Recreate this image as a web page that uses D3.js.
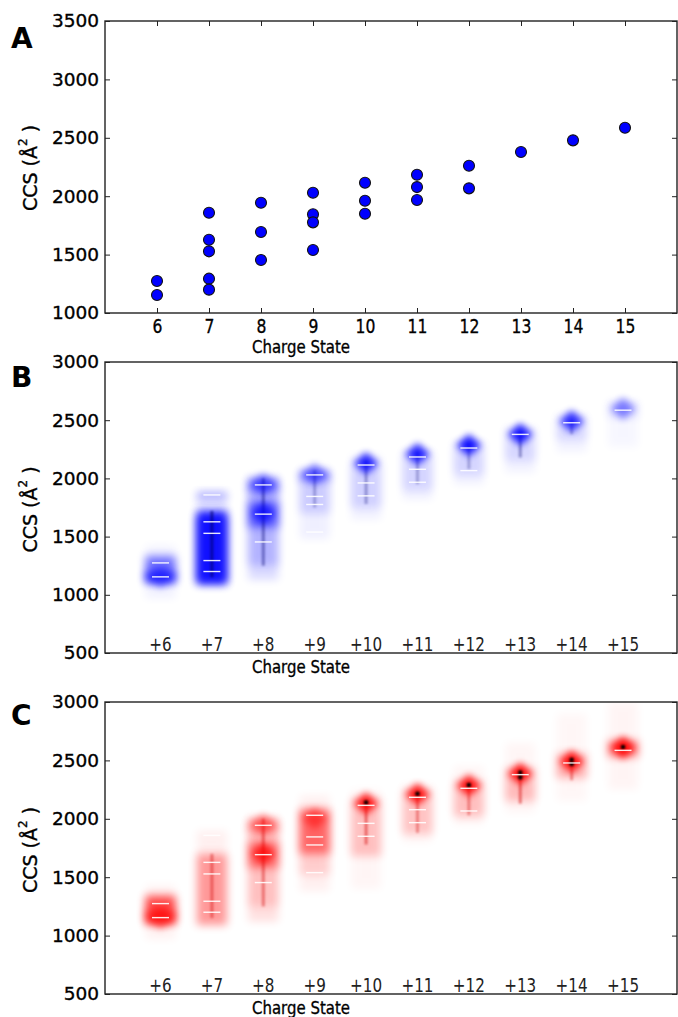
<!DOCTYPE html>
<html>
<head>
<meta charset="utf-8">
<script src="https://cdn.jsdelivr.net/npm/d3@7"></script>
<style>
  body { margin: 0; background: #fff; }
  text { font-family: "DejaVu Sans", sans-serif; }
</style>
</head>
<body>
<div id="chart"></div>
<script>
// charge states and CCS peaks (panel A, also the white marks in B and C)
const charges = [6, 7, 8, 9, 10, 11, 12, 13, 14, 15];
const chargeLabels = charges.map(c => '+' + c);
const peakCharge = [6, 6, 7, 7, 7, 7, 7, 8, 8, 8, 9, 9, 9, 9, 10, 10, 10, 11, 11, 11, 12, 12, 13, 14, 15];
const peakCCS = [1274, 1154, 1858, 1627, 1528, 1294, 1200, 1944, 1693, 1454, 2030, 1845, 1776, 1539,
                 2115, 1961, 1850, 2184, 2078, 1967, 2261, 2067, 2378, 2478, 2586];
const ticksA = [1000, 1500, 2000, 2500, 3000, 3500];
const ticksBC = [500, 1000, 1500, 2000, 2500, 3000];

// density bands: [charge, ccs low, ccs high, intensity]
const bandsB = [
  [6, 970, 1420, 0.05], [6, 1100, 1330, 0.55], [6, 1110, 1200, 0.6],
  [7, 1700, 1890, 0.1], [7, 1820, 1880, 0.25], [7, 1090, 1720, 0.85], [7, 1110, 1680, 0.55],
  [8, 1130, 2020, 0.14], [8, 1250, 1990, 0.18], [8, 1880, 1990, 0.4], [8, 1580, 1800, 0.5],
  [9, 1480, 2100, 0.06], [9, 1700, 2060, 0.15], [9, 1980, 2060, 0.4],
  [10, 1650, 2200, 0.06], [10, 1750, 2150, 0.13],
  [11, 1820, 2250, 0.06], [11, 1900, 2230, 0.11],
  [12, 1950, 2330, 0.06], [12, 2030, 2310, 0.11],
  [13, 2050, 2450, 0.05], [13, 2150, 2420, 0.11],
  [14, 2230, 2560, 0.05], [14, 2330, 2530, 0.11],
  [15, 2270, 2660, 0.03], [15, 2520, 2660, 0.1]
];
// bright spots: [charge, ccs, intensity]
const coresB = [
  [6, 1150, 0.4], [8, 1700, 0.7], [8, 1950, 0.5], [9, 2035, 0.5], [10, 2130, 0.85],
  [11, 2210, 0.85], [12, 2285, 0.9], [13, 2380, 0.9], [14, 2490, 0.8], [15, 2600, 0.45]
];
// darker vertical streaks: [charge, ccs low, ccs high, intensity]
const streaksB = [
  [7, 1150, 1720, 0.6], [8, 1250, 2000, 0.4], [9, 1750, 2070, 0.25], [10, 1780, 2150, 0.3],
  [11, 1950, 2230, 0.25], [12, 2080, 2300, 0.25], [13, 2180, 2400, 0.35], [14, 2380, 2500, 0.25]
];

const bandsC = [
  [6, 970, 1430, 0.05], [6, 1100, 1340, 0.7], [6, 1110, 1220, 0.5],
  [7, 1700, 1900, 0.06], [7, 1090, 1700, 0.4],
  [8, 1120, 2020, 0.12], [8, 1250, 1990, 0.14], [8, 1880, 1990, 0.3], [8, 1580, 1800, 0.45],
  [9, 1380, 2200, 0.06], [9, 1520, 2080, 0.14], [9, 1700, 2080, 0.5],
  [10, 1400, 2250, 0.035], [10, 1680, 2180, 0.22],
  [11, 1800, 2300, 0.04], [11, 1870, 2250, 0.2],
  [12, 1950, 2450, 0.04], [12, 2020, 2330, 0.22],
  [13, 2050, 2650, 0.035], [13, 2150, 2440, 0.24],
  [14, 2150, 2900, 0.03], [14, 2350, 2560, 0.3],
  [15, 2250, 3000, 0.04], [15, 2530, 2670, 0.5]
];
const coresC = [
  [6, 1150, 0.5], [8, 1700, 0.75], [8, 1950, 0.45], [9, 2000, 0.5], [10, 2130, 0.9],
  [11, 2210, 0.9], [12, 2285, 0.9], [13, 2385, 0.95], [14, 2490, 0.95], [15, 2610, 0.95]
];
const streaksC = [
  [7, 1150, 1700, 0.4], [8, 1250, 2000, 0.4], [10, 1780, 2150, 0.45], [11, 1880, 2230, 0.35],
  [12, 2030, 2300, 0.35], [13, 2130, 2400, 0.45], [14, 2330, 2500, 0.35]
];
// black saturated dots in panel C: [charge, ccs]
const blackC = [[10, 2140], [11, 2215], [12, 2290], [13, 2395], [13, 2355], [14, 2505], [14, 2470], [15, 2615]];

const W = 678, H = 1017;
const LEFT = 105, RIGHT = 677;
const AXIS_COLOR = '#222';

const svg = d3.select('#chart').append('svg')
  .attr('width', W).attr('height', H);

const defs = svg.append('defs');
const blur = (id, sd) => defs.append('filter').attr('id', id)
  .attr('x', '-80%').attr('y', '-80%').attr('width', '260%').attr('height', '260%')
  .append('feGaussianBlur').attr('stdDeviation', sd);
blur('blurBand', '4.5 4');
blur('blurCore', '3.5');
blur('blurStreak', '1.2');
blur('blurDot', '0.8');

function frame(g, top, bottom) {
  g.append('rect')
    .attr('x', LEFT).attr('y', top)
    .attr('width', RIGHT - LEFT).attr('height', bottom - top)
    .attr('fill', 'none').attr('stroke', AXIS_COLOR).attr('stroke-width', 1.4);
}

// slightly heavier text, like the soft raster of the original
const heavy = s => s.attr('stroke', '#000').attr('stroke-width', 0.35);

function yAxes(g, y, ticks) {
  g.append('g').attr('transform', `translate(${LEFT},0)`)
    .call(d3.axisLeft(y).tickValues(ticks).tickSize(-5).tickPadding(6).tickFormat(d3.format('d')))
    .call(s => {
      s.select('.domain').remove();
      s.selectAll('line').attr('stroke', AXIS_COLOR);
      s.selectAll('text').attr('font-size', 18.5).attr('fill', '#000')
        .attr('font-family', '"DejaVu Sans", sans-serif').call(heavy);
    });
  g.append('g').attr('transform', `translate(${RIGHT},0)`)
    .call(d3.axisRight(y).tickValues(ticks).tickSize(-5).tickFormat(''))
    .call(s => {
      s.select('.domain').remove();
      s.selectAll('line').attr('stroke', AXIS_COLOR);
    });
}

function yLabel(g, cy) {
  const t = g.append('text')
    .attr('transform', `translate(37,${cy}) rotate(-90)`)
    .attr('text-anchor', 'middle')
    .attr('font-size', 19).attr('fill', '#000').call(heavy);
  t.append('tspan').text('CCS (Å');
  t.append('tspan').attr('font-size', 12).attr('dy', -10).text('2');
  t.append('tspan').attr('dy', 10).text(' )');
}

function xLabel(g, baseline) {
  g.append('text')
    .attr('x', 301).attr('y', baseline)
    .attr('text-anchor', 'middle')
    .attr('font-size', 18.5).attr('fill', '#000')
    .attr('textLength', 98).attr('lengthAdjust', 'spacingAndGlyphs')
    .call(heavy)
    .text('Charge State');
}

function panelLetter(g, letter, baseline) {
  g.append('text')
    .attr('x', 11).attr('y', baseline)
    .attr('font-size', 28).attr('font-weight', 'bold').attr('fill', '#000')
    .text(letter);
}

// ---------- Panel A ----------
{
  const top = 21, bottom = 313;
  const g = svg.append('g');
  const x = d3.scaleLinear().domain([5, 16]).range([LEFT, RIGHT]);
  const y = d3.scaleLinear().domain([1000, 3500]).range([bottom, top]);

  frame(g, top, bottom);
  yAxes(g, y, ticksA);

  g.append('g').attr('transform', `translate(0,${bottom})`)
    .call(d3.axisBottom(x).tickValues(charges).tickSize(-5).tickPadding(6).tickFormat(d3.format('d')))
    .call(s => {
      s.select('.domain').remove();
      s.selectAll('line').attr('stroke', AXIS_COLOR);
      s.selectAll('text').attr('font-size', 19.5).attr('fill', '#000')
        .attr('font-family', '"DejaVu Sans", sans-serif')
        .attr('transform', 'scale(0.8,1)').call(heavy);
    });
  g.append('g').attr('transform', `translate(0,${top})`)
    .call(d3.axisTop(x).tickValues(charges).tickSize(-5).tickFormat(''))
    .call(s => {
      s.select('.domain').remove();
      s.selectAll('line').attr('stroke', AXIS_COLOR);
    });

  g.append('g').selectAll('circle')
    .data(peakCCS.map((v, i) => ({ z: peakCharge[i], ccs: v })))
    .join('circle')
    .attr('cx', d => x(d.z)).attr('cy', d => y(d.ccs))
    .attr('r', 5.5)
    .attr('fill', '#0000ff').attr('stroke', '#111').attr('stroke-width', 1.1);

  xLabel(g, 353);
  yLabel(g, 168);
  panelLetter(g, 'A', 48);
}

// ---------- Panels B and C ----------
function densityPanel(opts) {
  const { top, bottom, bands, cores, streaks, dots, color, streakColor, letter, clipId } = opts;
  const g = svg.append('g');
  const x = d3.scaleLinear().domain([4.92, 16.05]).range([LEFT, RIGHT]);
  const y = d3.scaleLinear().domain([500, 3000]).range([bottom, top]);

  defs.append('clipPath').attr('id', clipId)
    .append('rect').attr('x', LEFT).attr('y', top)
    .attr('width', RIGHT - LEFT).attr('height', bottom - top);

  const plot = g.append('g').attr('clip-path', `url(#${clipId})`);

  plot.append('g').selectAll('rect')
    .data(bands).join('rect')
    .attr('x', d => x(d[0]) - 15).attr('width', 30)
    .attr('y', d => y(d[2])).attr('height', d => y(d[1]) - y(d[2]))
    .attr('fill', color).attr('opacity', d => d[3])
    .attr('filter', 'url(#blurBand)');

  plot.append('g').selectAll('rect')
    .data(streaks).join('rect')
    .attr('x', d => x(d[0]) - 1.5).attr('width', 3)
    .attr('y', d => y(d[2])).attr('height', d => y(d[1]) - y(d[2]))
    .attr('fill', streakColor).attr('opacity', d => d[3])
    .attr('filter', 'url(#blurStreak)');

  plot.append('g').selectAll('path')
    .data(cores).join('path')
    .attr('transform', d => `translate(${x(d[0])},${y(d[1])})`)
    .attr('d', 'M0,-11L12,0L0,11L-12,0Z')
    .attr('fill', color).attr('opacity', d => d[2])
    .attr('filter', 'url(#blurCore)');

  plot.append('g').selectAll('circle')
    .data(dots).join('circle')
    .attr('cx', d => x(d[0])).attr('cy', d => y(d[1]))
    .attr('r', 2.3).attr('fill', '#000')
    .attr('filter', 'url(#blurDot)');

  plot.append('g').selectAll('line')
    .data(peakCCS.map((v, i) => ({ z: peakCharge[i], ccs: v })))
    .join('line')
    .attr('x1', d => x(d.z) - 8.5).attr('x2', d => x(d.z) + 8.5)
    .attr('y1', d => y(d.ccs)).attr('y2', d => y(d.ccs))
    .attr('stroke', '#fff').attr('stroke-width', 1.4).attr('opacity', 0.9);

  // charge labels drawn inside the plot, along the bottom
  g.append('g').selectAll('text')
    .data(charges).join('text')
    .attr('transform', d => `translate(${x(d)},${bottom - 2}) scale(0.76,1)`)
    .attr('text-anchor', 'middle')
    .attr('font-size', 20).attr('fill', '#222')
    .text((d, i) => chargeLabels[i]);

  frame(g, top, bottom);
  yAxes(g, y, ticksBC);
  xLabel(g, opts.xLabelY);
  yLabel(g, (top + bottom) / 2 + 2);
  panelLetter(g, letter, opts.letterY);
}

densityPanel({
  top: 362, bottom: 653, bands: bandsB, cores: coresB, streaks: streaksB, dots: [],
  color: '#0000ff', streakColor: '#000070', letter: 'B', clipId: 'clipB',
  xLabelY: 673, letterY: 387
});

densityPanel({
  top: 702, bottom: 994, bands: bandsC, cores: coresC, streaks: streaksC, dots: blackC,
  color: '#ff0000', streakColor: '#d00000', letter: 'C', clipId: 'clipC',
  xLabelY: 1014, letterY: 725
});
</script>
</body>
</html>
